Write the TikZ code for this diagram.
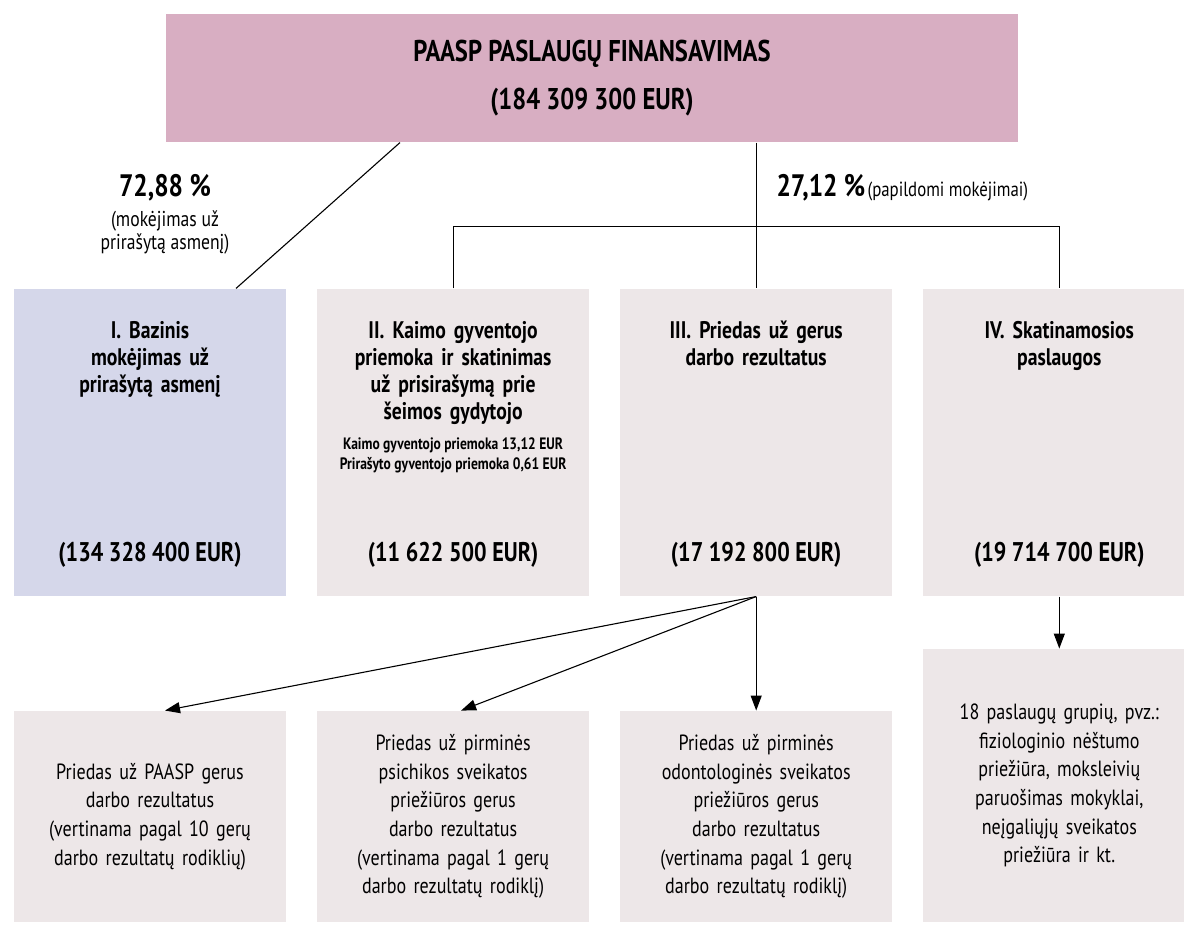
\documentclass[tikz,border=0pt]{standalone}
\usepackage{fontspec}
\setmainfont{PT Sans}[FakeStretch=0.82]
\usetikzlibrary{positioning,arrows.meta}
\definecolor{topPink}{HTML}{D8AEC2}
\definecolor{baseBlue}{HTML}{D5D7EA}
\definecolor{boxGrey}{HTML}{EDE7E8}
\tikzset{every picture/.style={line width=1.1pt}}

\begin{document}
\begin{tikzpicture}[x=1pt, y=-1pt, node distance=30pt,
  >={Triangle[length=15pt,width=11pt]},
  fund/.style={fill=boxGrey, minimum width=272pt, minimum height=307pt, inner sep=0pt},
  sub/.style={fill=boxGrey, minimum width=272pt, minimum height=211pt, text width=262pt, align=center, font=\fontsize{22}{28.7}\selectfont},
  head/.style={text width=262pt, align=center, inner sep=0pt, font=\bfseries\fontsize{24}{27}\selectfont},
  sum/.style={inner sep=0pt, font=\bfseries\fontsize{27}{30}\selectfont}]
  \useasboundingbox (0,0) rectangle (1184,933);
  \node[fill=topPink, minimum width=852pt, minimum height=128pt, align=center, font=\bfseries\fontsize{30}{48}\selectfont] (total) at (592,78) {PAASP PASLAUGŲ FINANSAVIMAS\\(184 309 300 EUR)};

  % four kinds of payment
  \node[fund, fill=baseBlue] (base) at (150,442.5) {};
  \node[fund, right=of base] (rural) {};
  \node[fund, right=of rural] (result) {};
  \node[fund, right=of result] (promo) {};

  \node[head, below=32pt of base.north] (baseHead) {I. Bazinis\\mokėjimas už\\prirašytą asmenį};
  \node[head, below=32pt of rural.north] (ruralHead) {II. Kaimo gyventojo\\priemoka ir skatinimas\\už prisirašymą prie\\šeimos gydytojo};
  \node[head, below=32pt of result.north] (resultHead) {III. Priedas už gerus\\darbo rezultatus};
  \node[head, below=32pt of promo.north] (promoHead) {IV. Skatinamosios\\paslaugos};
  \node[inner sep=0pt, align=center, font=\bfseries\fontsize{16.5}{20}\selectfont, below=12pt of ruralHead] (ruralNote) {Kaimo gyventojo priemoka 13,12 EUR\\Prirašyto gyventojo priemoka 0,61 EUR};

  \node[sum, above=29pt of base.south] (baseSum) {(134 328 400 EUR)};
  \node[sum, above=29pt of rural.south] (ruralSum) {(11 622 500 EUR)};
  \node[sum, above=29pt of result.south] (resultSum) {(17 192 800 EUR)};
  \node[sum, above=29pt of promo.south] (promoSum) {(19 714 700 EUR)};

  % shares
  \node[inner sep=0pt, font=\bfseries\fontsize{31}{34}\selectfont] (shareA) at (165,188) {72,88 \%};
  \node[align=center, inner sep=0pt, font=\fontsize{21.5}{23}\selectfont, below=8pt of shareA] (shareAnote) {(mokėjimas už\\prirašytą asmenį)};
  \node[anchor=west, inner sep=0pt] (shareB) at (776,188) {{\bfseries\fontsize{31}{34}\selectfont 27,12 \%} {\fontsize{20.5}{23}\selectfont (papildomi mokėjimai)}};

  % lower row
  \node[sub, below=114pt of base] (subA) {Priedas už PAASP gerus\\darbo rezultatus\\(vertinama pagal 10 gerų\\darbo rezultatų rodiklių)};
  \node[sub, below=114pt of rural] (subB) {Priedas už pirminės\\psichikos sveikatos\\priežiūros gerus\\darbo rezultatus\\(vertinama pagal 1 gerų\\darbo rezultatų rodiklį)};
  \node[sub, below=114pt of result] (subC) {Priedas už pirminės\\odontologinės sveikatos\\priežiūros gerus\\darbo rezultatus\\(vertinama pagal 1 gerų\\darbo rezultatų rodiklį)};
  \node[sub, minimum height=273pt, below=52pt of promo] (subD) {18 paslaugų grupių, pvz.:\\fiziologinio nėštumo\\priežiūra, moksleivių\\paruošimas mokyklai,\\neįgaliųjų sveikatos\\priežiūra ir kt.};

  % connectors
  \coordinate (split) at ([yshift=-84pt]total.south -| result.north);
  \draw ([xshift=-192pt]total.south) -- ([xshift=86pt]base.north);
  \draw (total.south -| split) -- (split);
  \draw (rural.north) |- (split) -| (promo.north);
  \draw (split) -- (result.north);
  \draw[->] (result.south) -- ([xshift=15pt]subA.north);
  \draw[->] (result.south) -- ([xshift=8pt]subB.north);
  \draw[->] (result.south) -- (subC.north);
  \draw[->] (promo.south) -- (subD.north);
\end{tikzpicture}
\end{document}
